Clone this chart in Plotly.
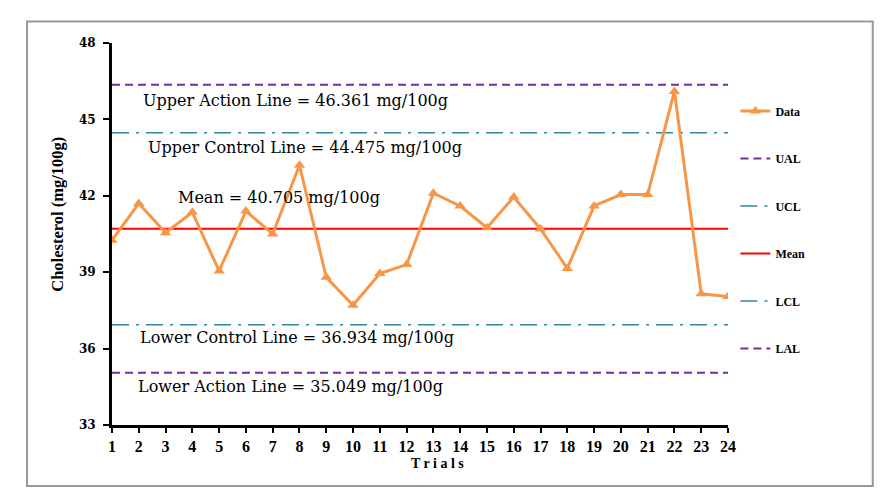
import plotly.graph_objects as go

trials = list(range(1, 25))
cholesterol = [40.25, 41.7, 40.55, 41.35, 39.05, 41.4, 40.5, 43.2, 38.8, 37.7, 38.95, 39.3,
               42.1, 41.6, 40.75, 41.95, 40.7, 39.15, 41.6, 42.05, 42.05, 46.1, 38.15, 38.05]

ual = 46.361
ucl = 44.475
mean = 40.705
lcl = 36.934
lal = 35.049

y_ticks = [33, 36, 39, 42, 45, 48]

line_labels = [
    ("Upper Action Line = 46.361 mg/100g", 2.08, 45.74),
    ("Upper Control Line = 44.475 mg/100g", 2.27, 43.9),
    ("Mean = 40.705 mg/100g", 3.39, 41.93),
    ("Lower Control Line = 36.934 mg/100g", 1.97, 36.43),
    ("Lower Action Line = 35.049 mg/100g", 1.9, 34.51),
]

SERIF = "Liberation Serif, Times New Roman, serif"
WSERIF = "DejaVu Serif, serif"
ORANGE = "#F79646"
PURPLE = "#7030A0"
TEAL = "#31859C"
RED = "#FF0000"

fig = go.Figure()
x_span = [trials[0], trials[-1]]

ref_lines = [
    ("UAL", ual, PURPLE, "8px,5px", 2, 2),
    ("UCL", ucl, TEAL, "17px,7px,3px,7px", 1.5, 3),
    ("Mean", mean, RED, "solid", 2, 4),
    ("LCL", lcl, TEAL, "17px,7px,3px,7px", 1.5, 5),
    ("LAL", lal, PURPLE, "8px,5px", 2, 6),
]
for name, val, col, dash, w, rank in ref_lines:
    fig.add_trace(go.Scatter(
        x=x_span, y=[val, val], mode="lines", name=name,
        line=dict(color=col, dash=dash, width=w),
        legendrank=rank, legendgroup=name, hoverinfo="skip"))

fig.add_trace(go.Scatter(
    x=trials, y=cholesterol, mode="lines+markers", name="Data",
    line=dict(color=ORANGE, width=3),
    marker=dict(symbol="triangle-up", size=10, color=ORANGE),
    legendrank=1, legendgroup="Data"))

for text, x, y in line_labels:
    fig.add_annotation(x=x, y=y, xref="x", yref="y", text=text, showarrow=False,
                       xanchor="left", yanchor="middle",
                       font=dict(family=WSERIF, size=16, color="#000000"))

# axis titles
fig.add_annotation(x=-0.0877, y=0.553, xref="paper", yref="paper",
                   text="Cholesterol (mg/100g)", textangle=-90, showarrow=False,
                   xanchor="center", yanchor="middle",
                   font=dict(family=SERIF, size=16.5, color="black", weight="bold"))
fig.add_annotation(x=0.529, y=-0.1, xref="paper", yref="paper",
                   text="T r i a l s", showarrow=False,
                   xanchor="center", yanchor="middle",
                   font=dict(family=SERIF, size=14, color="black", weight="bold"))

# outer frame
fig.add_shape(type="rect", xref="paper", yref="paper",
              x0=-0.138, x1=1.235, y0=-0.16, y1=1.056,
              line=dict(color="#999999", width=2), fillcolor="rgba(0,0,0,0)", layer="below")

fig.update_layout(
    width=882, height=486,
    margin=dict(l=104, r=162, t=35, b=69),
    paper_bgcolor="white", plot_bgcolor="white",
    showlegend=True,
    legend=dict(x=1.012, y=0.86, xanchor="left", yanchor="top",
                font=dict(family=SERIF, size=12, color="#000000", weight="bold"),
                tracegroupgap=28.5, bgcolor="rgba(0,0,0,0)", itemwidth=30),
    xaxis=dict(range=[1, 24], tickmode="array", tickvals=trials,
               ticktext=[str(t) for t in trials],
               showline=True, linecolor="black", linewidth=3,
               ticks="outside", ticklen=5, tickwidth=2, tickcolor="black",
               showgrid=False, zeroline=False,
               tickfont=dict(family=SERIF, size=16, color="black", weight="bold")),
    yaxis=dict(range=[33, 48], tickmode="array", tickvals=y_ticks,
               showline=True, linecolor="black", linewidth=3,
               ticks="outside", ticklen=6, tickwidth=2, tickcolor="black",
               ticklabelstandoff=5,
               showgrid=False, zeroline=False,
               tickfont=dict(family=WSERIF, size=12, color="black", weight="bold")),
)

fig.write_html("out.html")
